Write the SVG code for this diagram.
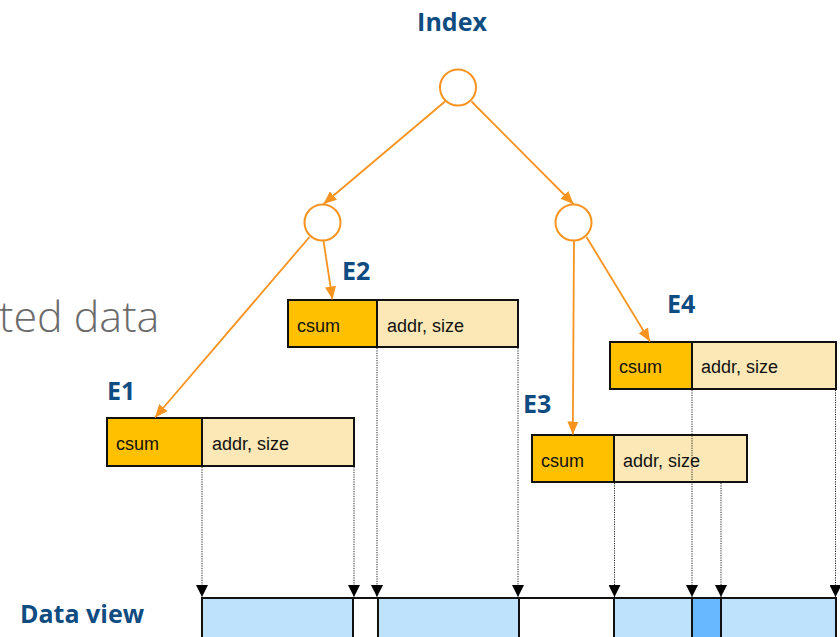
<svg xmlns="http://www.w3.org/2000/svg" width="840" height="637" viewBox="0 0 840 637">
  <style>
    .hdr { font-family: "Open Sans", "Noto Sans", "DejaVu Sans", sans-serif; font-weight: 700; font-size: 25px; fill: #0f4c81; }
    .ghost { font-family: "Open Sans", "Noto Sans", sans-serif; font-weight: 300; font-size: 43px; fill: #6b6b6b; }
    .cell { font-family: "Liberation Sans", Arial, sans-serif; font-size: 18px; fill: #111; }
    .tnode { fill: #ffffff; stroke: #f7931e; stroke-width: 2; }
    .csum { fill: #ffc000; stroke: #111; stroke-width: 2; }
    .meta { fill: #fce8b6; stroke: #111; stroke-width: 2; }
    .seg { fill: #bfe2fc; }
    .seg-hot { fill: #67b8ff; }
    .edge { fill: none; stroke: #f7931e; stroke-width: 1.8; marker-end: url(#arrow-orange); }
    .ptr { fill: none; stroke: #222; stroke-width: 1; stroke-dasharray: 1.2 1.2; marker-end: url(#arrow-black); }
    .bar-line { stroke: #111; stroke-width: 2; fill: none; }
  </style>
  <defs>
    <marker id="arrow-orange" markerUnits="userSpaceOnUse" markerWidth="13" markerHeight="11" refX="13" refY="5.5" orient="auto">
      <path d="M0,0 L13,5.5 L0,11 z" fill="#f7931e"/>
    </marker>
    <marker id="arrow-black" markerUnits="userSpaceOnUse" markerWidth="13" markerHeight="12" refX="12" refY="6" orient="auto">
      <path d="M0,0 L12,6 L0,12 z" fill="#000"/>
    </marker>
  </defs>

  <!-- section labels -->
  <g id="title-index"><text class="hdr" x="452" y="31" text-anchor="middle">Index</text></g>
  <g id="title-dataview"><text class="hdr" x="20" y="623">Data view</text></g>
  <g id="title-partial"><text class="ghost" x="-1" y="332">ted data</text></g>

  <!-- index tree -->
  <g id="index-root"><circle class="tnode" cx="458" cy="87.5" r="18"/></g>
  <g id="index-left"><circle class="tnode" cx="322.5" cy="222.5" r="18"/></g>
  <g id="index-right"><circle class="tnode" cx="573.5" cy="222.5" r="18"/></g>

  <!-- index entries -->
  <g id="entry-e1">
    <text class="hdr" x="107" y="400">E1</text>
    <rect class="meta" x="202" y="418" width="152" height="48"/>
    <rect class="csum" x="107" y="418" width="95" height="48"/>
    <text class="cell" x="116" y="450">csum</text>
    <text class="cell" x="212" y="450">addr, size</text>
  </g>
  <g id="entry-e2">
    <text class="hdr" x="342" y="280">E2</text>
    <rect class="meta" x="377" y="300" width="141" height="47"/>
    <rect class="csum" x="288" y="300" width="89" height="47"/>
    <text class="cell" x="297" y="332">csum</text>
    <text class="cell" x="387" y="332">addr, size</text>
  </g>
  <g id="entry-e3">
    <text class="hdr" x="523" y="413">E3</text>
    <rect class="meta" x="614" y="435" width="133" height="47"/>
    <rect class="csum" x="532" y="435" width="82" height="47"/>
    <text class="cell" x="541" y="467">csum</text>
    <text class="cell" x="623" y="467">addr, size</text>
  </g>
  <g id="entry-e4">
    <text class="hdr" x="667" y="313">E4</text>
    <rect class="meta" x="692" y="342" width="144" height="47"/>
    <rect class="csum" x="610" y="342" width="82" height="47"/>
    <text class="cell" x="619" y="373">csum</text>
    <text class="cell" x="701" y="373">addr, size</text>
  </g>

  <!-- data view bar -->
  <g id="data-view">
    <rect class="seg" x="202" y="598" width="151" height="42"/>
    <rect class="seg" x="378" y="598" width="141" height="42"/>
    <rect class="seg" x="614" y="598" width="78" height="42"/>
    <rect class="seg-hot" x="692" y="598" width="29" height="42"/>
    <rect class="seg" x="721" y="598" width="115" height="42"/>
    <path class="bar-line" d="M202,598 H836 M202,597 V640 M353,598 V640 M378,598 V640 M519,598 V640 M614,598 V640 M692,598 V640 M721,598 V640 M836,597 V640"/>
  </g>

  <!-- connectors -->
  <g id="connectors">
    <line class="edge" x1="445" y1="101.5" x2="323.5" y2="204"/>
    <line class="edge" x1="471.5" y1="101.5" x2="573.5" y2="204"/>
    <line class="edge" x1="309.5" y1="237" x2="155" y2="417.5"/>
    <line class="edge" x1="323.5" y1="241" x2="332.5" y2="299.5"/>
    <line class="edge" x1="574" y1="241" x2="572.8" y2="434.5"/>
    <line class="edge" x1="586.5" y1="237" x2="650" y2="341.5"/>

    <line class="ptr" x1="202" y1="467" x2="202" y2="597"/>
    <line class="ptr" x1="354" y1="467" x2="354" y2="597"/>
    <line class="ptr" x1="377" y1="348" x2="377" y2="597"/>
    <line class="ptr" x1="518" y1="348" x2="518" y2="597"/>
    <line class="ptr" x1="614.5" y1="483" x2="614.5" y2="597"/>
    <line class="ptr" x1="692" y1="390" x2="692" y2="597"/>
    <line class="ptr" x1="721" y1="483" x2="721" y2="597"/>
    <line class="ptr" x1="835.5" y1="390" x2="835.5" y2="597"/>
  </g>
</svg>
